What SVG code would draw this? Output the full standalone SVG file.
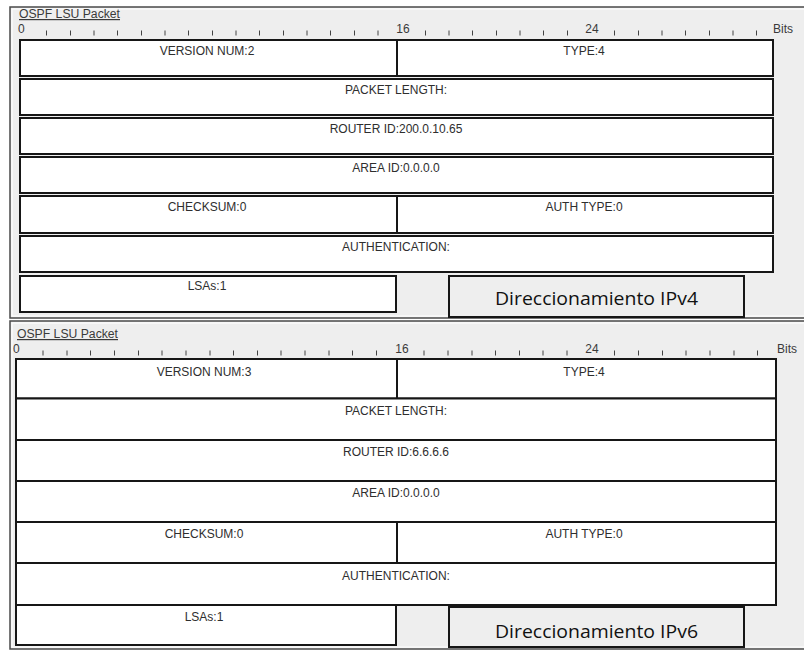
<svg xmlns="http://www.w3.org/2000/svg" width="804" height="652" viewBox="0 0 804 652">
<style>
.panel{fill:#eeeeee;stroke:#4a4a4a;stroke-width:1.5}
.hl{fill:none;stroke:#ffffff;stroke-width:1}
.title{font-family:"Liberation Sans",Arial,sans-serif;font-size:12px;fill:#3a3a3a;text-decoration:underline}
.rl{font-family:"Liberation Sans",Arial,sans-serif;font-size:12px;fill:#3a3a3a}
.tick{stroke:#444444;stroke-width:1;fill:none}
.fld{fill:#ffffff;stroke:#161616;stroke-width:2}
.ft{font-family:"Liberation Sans",Arial,sans-serif;font-size:12px;fill:#2e2e2e;text-anchor:middle}
.note{fill:#eeeeee;stroke:#161616;stroke-width:2}
.nt{font-family:"Open Sans","Liberation Sans",sans-serif;font-size:18px;fill:#111111;text-anchor:middle}
</style>
<rect width="804" height="652" fill="#ffffff"/>

<g id="panel-ipv4">
<rect class="panel" x="10" y="7" width="800" height="311"/>
<rect class="hl" x="12" y="9" width="796" height="307"/>
<text class="title" x="19" y="18" textLength="101" lengthAdjust="spacingAndGlyphs">OSPF LSU Packet</text>
<g id="ruler-ipv4">
<text class="rl" x="18" y="33">0</text>
<text class="rl" x="403" y="33" text-anchor="middle">16</text>
<text class="rl" x="592" y="33" text-anchor="middle">24</text>
<text class="rl" x="773" y="33">Bits</text>
<path class="tick" d="M46.5 30.5v5M70.5 30.5v5M94 30.5v5M117.5 30.5v5M141.5 30.5v5M165 30.5v5M188.5 30.5v5M212.5 30.5v5M236 30.5v5M259.5 30.5v5M283.5 30.5v5M307 30.5v5M330.5 30.5v5M354.5 30.5v5M378 30.5v5M425.5 30.5v5M449 30.5v5M472.5 30.5v5M496.5 30.5v5M520 30.5v5M543.5 30.5v5M567.5 30.5v5M614.5 30.5v5M638.5 30.5v5M662 30.5v5M685.5 30.5v5M709.5 30.5v5M733 30.5v5M756.5 30.5v5"/>
</g>
<g id="v4-version"><rect class="fld" x="20" y="40" width="377" height="36"/><text class="ft" x="207" y="55">VERSION NUM:2</text></g>
<g id="v4-type"><rect class="fld" x="397" y="40" width="376" height="36"/><text class="ft" x="584" y="55">TYPE:4</text></g>
<g id="v4-length"><rect class="fld" x="20" y="79" width="753" height="36"/><text class="ft" x="396" y="94">PACKET LENGTH:</text></g>
<g id="v4-router"><rect class="fld" x="20" y="118" width="753" height="36"/><text class="ft" x="396" y="133">ROUTER ID:200.0.10.65</text></g>
<g id="v4-area"><rect class="fld" x="20" y="157" width="753" height="36"/><text class="ft" x="396" y="172">AREA ID:0.0.0.0</text></g>
<g id="v4-checksum"><rect class="fld" x="20" y="196" width="377" height="37"/><text class="ft" x="207" y="211">CHECKSUM:0</text></g>
<g id="v4-authtype"><rect class="fld" x="397" y="196" width="376" height="37"/><text class="ft" x="584" y="211">AUTH TYPE:0</text></g>
<g id="v4-auth"><rect class="fld" x="20" y="236" width="753" height="36"/><text class="ft" x="396" y="251">AUTHENTICATION:</text></g>
<g id="v4-lsas"><rect class="fld" x="20" y="276" width="376" height="36"/><text class="ft" x="207" y="290">LSAs:1</text></g>
<g id="v4-note"><rect class="note" x="449" y="276" width="295" height="41"/><text class="nt" x="596.5" y="305" textLength="203" lengthAdjust="spacingAndGlyphs">Direccionamiento IPv4</text></g>
</g>

<g id="panel-ipv6">
<rect class="panel" x="10" y="321" width="800" height="328"/>
<rect class="hl" x="12" y="323" width="796" height="324"/>
<text class="title" x="17" y="338" textLength="101" lengthAdjust="spacingAndGlyphs">OSPF LSU Packet</text>
<g id="ruler-ipv6">
<text class="rl" x="13" y="353">0</text>
<text class="rl" x="402" y="353" text-anchor="middle">16</text>
<text class="rl" x="592" y="353" text-anchor="middle">24</text>
<text class="rl" x="777" y="353">Bits</text>
<path class="tick" d="M43 350.5v5M67 350.5v5M90.5 350.5v5M114.5 350.5v5M138.5 350.5v5M162 350.5v5M186 350.5v5M210 350.5v5M233.5 350.5v5M257.5 350.5v5M281 350.5v5M305 350.5v5M329 350.5v5M352.5 350.5v5M376.5 350.5v5M424 350.5v5M448 350.5v5M472 350.5v5M495.5 350.5v5M519.5 350.5v5M543 350.5v5M567 350.5v5M614.5 350.5v5M638.5 350.5v5M662.5 350.5v5M686 350.5v5M710 350.5v5M734 350.5v5M757.5 350.5v5"/>
</g>
<g id="v6-version"><rect class="fld" x="16" y="359" width="381" height="39.5"/><text class="ft" x="204" y="376">VERSION NUM:3</text></g>
<g id="v6-type"><rect class="fld" x="397" y="359" width="379" height="39.5"/><text class="ft" x="584" y="376">TYPE:4</text></g>
<g id="v6-length"><rect class="fld" x="16" y="398.5" width="760" height="41.5"/><text class="ft" x="396" y="415">PACKET LENGTH:</text></g>
<g id="v6-router"><rect class="fld" x="16" y="440" width="760" height="41"/><text class="ft" x="396" y="456">ROUTER ID:6.6.6.6</text></g>
<g id="v6-area"><rect class="fld" x="16" y="481" width="760" height="41"/><text class="ft" x="396" y="497">AREA ID:0.0.0.0</text></g>
<g id="v6-checksum"><rect class="fld" x="16" y="522" width="381" height="41"/><text class="ft" x="204" y="538">CHECKSUM:0</text></g>
<g id="v6-authtype"><rect class="fld" x="397" y="522" width="379" height="41"/><text class="ft" x="584" y="538">AUTH TYPE:0</text></g>
<g id="v6-auth"><rect class="fld" x="16" y="563" width="760" height="42"/><text class="ft" x="396" y="580">AUTHENTICATION:</text></g>
<g id="v6-lsas"><rect class="fld" x="16" y="605" width="380" height="40"/><text class="ft" x="204" y="621">LSAs:1</text></g>
<g id="v6-note"><rect class="note" x="449" y="607" width="295" height="40"/><text class="nt" x="596.5" y="638" textLength="203" lengthAdjust="spacingAndGlyphs">Direccionamiento IPv6</text></g>
</g>

<g id="connectors"/>
</svg>
